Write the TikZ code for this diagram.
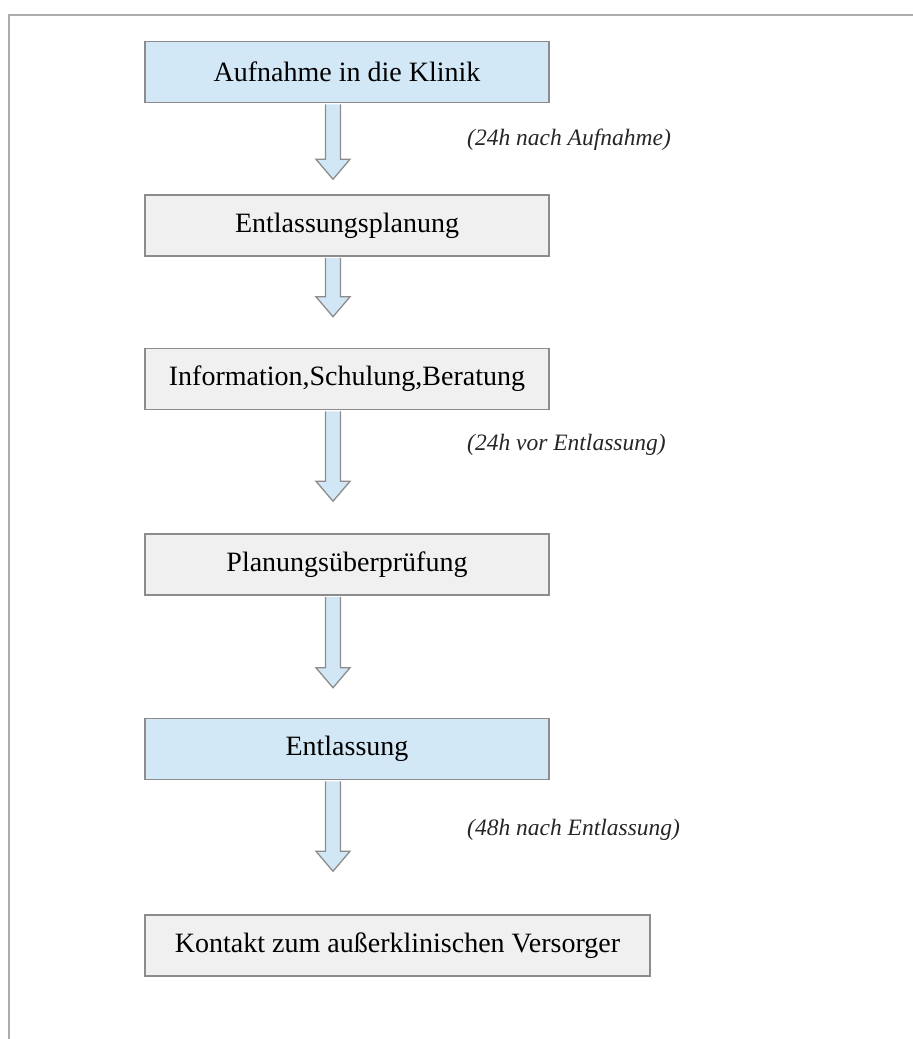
\documentclass[tikz,border=0pt]{standalone}
\usepackage{fontspec}
\setmainfont{Liberation Serif}
\usetikzlibrary{calc,positioning}
\definecolor{framegrey}{RGB}{172,172,172}
\definecolor{edgegrey}{RGB}{140,140,140}
\definecolor{stepblue}{RGB}{211,232,247}
\definecolor{stepgrey}{RGB}{240,240,240}
\definecolor{arrowblue}{RGB}{210,231,246}
\tikzset{
  stepbox/.style={draw=edgegrey,line width=1.5pt,fill=stepgrey,
    minimum width=404pt,minimum height=61pt,inner sep=0pt,
    font=\fontsize{28}{32}\selectfont},
  keybox/.style={stepbox,fill=stepblue},
  timelabel/.style={font=\fontsize{23.5}{27}\selectfont\itshape,
    anchor=west,inner sep=0pt,text=black!85},
  blockarrow/.style={draw=edgegrey,line width=1.3pt,fill=arrowblue,
    line join=miter}
}
% hollow block arrow from box #1 down to a gap #3 above box #2
\newcommand{\flowarrow}[3]{%
  \path[blockarrow] let \p1=(col |- #1.south), \p2=(col |- #2.north) in
    (\x1-7.5pt,\y1-1pt) -- (\x1-7.5pt,\y2+#3+20pt) -- (\x1-17pt,\y2+#3+20pt)
    -- (\x1,\y2+#3) -- (\x1+17pt,\y2+#3+20pt) -- (\x1+7.5pt,\y2+#3+20pt)
    -- (\x1+7.5pt,\y1-1pt);}

\begin{document}
\begin{tikzpicture}[x=1pt,y=-1pt]
  \useasboundingbox (0,0) rectangle (913,1039);
  \draw[framegrey,line width=1.5pt] (9,1039) -- (9,15) -- (913,15);
  \coordinate (col) at (333,0);
  \node[keybox] (aufnahme) at (347,72) {Aufnahme in die Klinik};
  \node[stepbox,below=91pt of aufnahme] (planung) {Entlassungsplanung};
  \node[stepbox,below=91pt of planung] (beratung) {Information,Schulung,Beratung};
  \node[stepbox,below=123pt of beratung] (pruefung) {Planungsüberprüfung};
  \node[keybox,below=122pt of pruefung] (entlassung) {Entlassung};
  \node[stepbox,minimum width=505pt,below=134pt of entlassung.south west,
    anchor=north west] (kontakt) {Kontakt zum außerklinischen Versorger};
  \node[timelabel] (nachaufnahme) at (467,140) {(24h nach Aufnahme)};
  \node[timelabel] (vorentlassung) at (467,445) {(24h vor Entlassung)};
  \node[timelabel] (nachentlassung) at (467,830) {(48h nach Entlassung)};
  \flowarrow{aufnahme}{planung}{15pt}
  \flowarrow{planung}{beratung}{31pt}
  \flowarrow{beratung}{pruefung}{32pt}
  \flowarrow{pruefung}{entlassung}{30pt}
  \flowarrow{entlassung}{kontakt}{43pt}
\end{tikzpicture}
\end{document}
